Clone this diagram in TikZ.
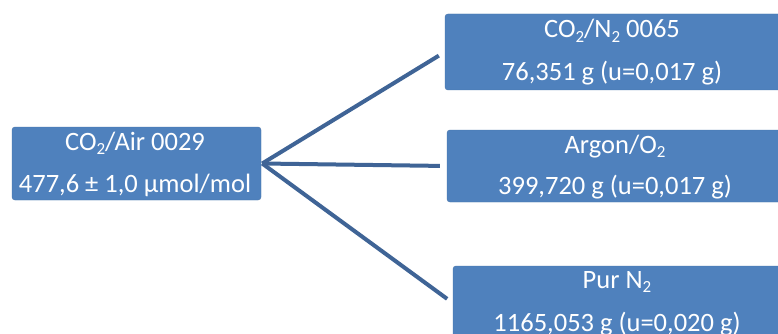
\documentclass[tikz,border=0pt]{standalone}
\usepackage{fontspec}
\setmainfont{Carlito}
\definecolor{boxblue}{HTML}{4F81BD}
\definecolor{lineblue}{HTML}{3F6496}
\newcommand{\mysub}[1]{\raisebox{-0.35ex}{\fontsize{17}{17}\selectfont #1}}
\tikzset{
  box/.style={fill=boxblue, draw=boxblue!90!black, line width=0.4pt, rounded corners=3pt, inner sep=0pt},
  txt/.style={text=white, inner sep=0pt, anchor=base, font=\fontsize{26.5}{30}\selectfont},
  conn/.style={draw=lineblue, line width=4pt, shorten >=7pt},
}
\begin{document}
\begin{tikzpicture}[x=1pt,y=-1pt]
\useasboundingbox (0,0) rectangle (778,334);
\fill[white] (0,0) rectangle (778,334);
\clip (0,0) rectangle (778,334);
% source
\node[box, minimum width=249pt, minimum height=73pt] (src) at (136.5,163.5) {};
\node[txt] (src1) at (135,150) {CO\mysub{2}/Air 0029};
\node[txt] (src2) at (135,192) {477,6 ± 1,0 µmol/mol};
% target 1
\node[box, minimum width=336pt, minimum height=76pt] (t1) at (613,52) {};
\node[txt] (t1a) at (612,38) {CO\mysub{2}/N\mysub{2} 0065};
\node[txt] (t1b) at (612,81) {76,351 g (u=0,017 g)};
% target 2
\node[box, minimum width=336pt, minimum height=72pt] (t2) at (615,166) {};
\node[txt] (t2a) at (615,153) {Argon/O\mysub{2}};
\node[txt] (t2b) at (615,194) {399,720 g (u=0,017 g)};
% target 3
\node[box, minimum width=328pt, minimum height=74pt] (t3) at (617,303) {};
\node[txt] (t3a) at (617,288) {Pur N\mysub{2}};
\node[txt] (t3b) at (617,331) {1165,053 g (u=0,020 g)};
% connectors
\coordinate (apex) at ([xshift=1pt]src.east);
\draw[conn] (apex) -- (t1.west);
\draw[conn] (apex) -- (t2.west);
\draw[conn] (apex) -- (t3.west);
\end{tikzpicture}
\end{document}
